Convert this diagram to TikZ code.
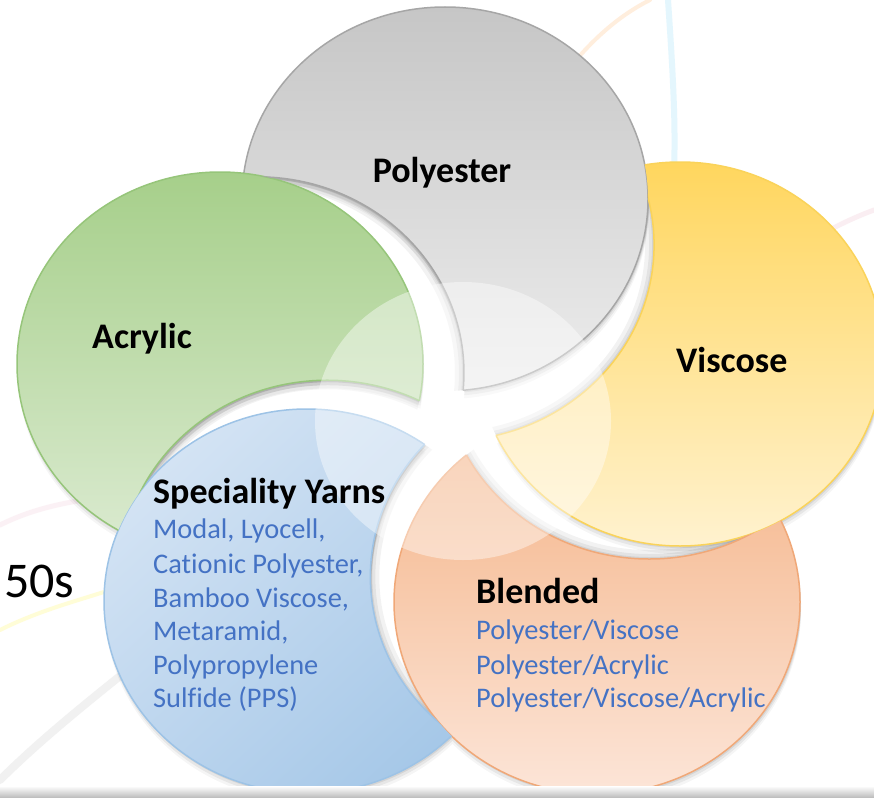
\documentclass[tikz,border=0pt]{standalone}
\usepackage{fontspec}
\setmainfont{Carlito}[Ligatures=NoCommon]
\usetikzlibrary{calc,shadings}
\definecolor{grayT}{HTML}{C6C6C6}\definecolor{grayB}{HTML}{EDEDED}\definecolor{grayL}{HTML}{A6A6A6}
\definecolor{greenT}{HTML}{A6CF8A}\definecolor{greenB}{HTML}{DCEBD2}\definecolor{greenL}{HTML}{96C57A}
\definecolor{yelT}{HTML}{FFD65E}\definecolor{yelB}{HTML}{FFF2CF}\definecolor{yelL}{HTML}{FAD35A}
\definecolor{oraT}{HTML}{F4B183}\definecolor{oraB}{HTML}{FCE5D8}\definecolor{oraL}{HTML}{F0A878}
\definecolor{bluL}{HTML}{DDE9F6}\definecolor{bluD}{HTML}{9CC2E5}\definecolor{bluM}{HTML}{BCD5EE}\definecolor{bluLine}{HTML}{9DC3E6}
\definecolor{txtblue}{HTML}{4472C4}
\def\EA{203}\def\EB{192}\def\CA{207}\def\CB{196}
% #1 petal ellipse, #2 cutting ellipse, #3 options, #4 neighbour petal ellipse
\newcommand\petalfill[4]{%
  \begin{scope}[even odd rule]
    \clip (-100,-100) rectangle (1000,900) (#2) ellipse [x radius=\CA, y radius=\CB];
    \clip (-100,-100) rectangle (1000,900) (#4) ellipse [x radius=\EA, y radius=\EB];
    \path[#3] (#1) ellipse [x radius=\EA, y radius=\EB];
  \end{scope}}
\newcommand\petalcut[4]{%
  \begin{scope}[even odd rule]
    \clip (#1) ellipse [x radius=\EA, y radius=\EB];
    \clip (-100,-100) rectangle (1000,900) (#4) ellipse [x radius=\EA, y radius=\EB];
    \draw[#3] (#2) ellipse [x radius=\CA, y radius=\CB];
  \end{scope}}
\newcommand\petalrim[2]{%
  \begin{scope}
    \clip (#1) ellipse [x radius=\EA, y radius=\EB];
    \clip (#2) ellipse [x radius=\CA, y radius=\CB];
    \draw[black,opacity=.05,line width=18pt] (#2) ellipse [x radius=\CA, y radius=\CB];
    \draw[black,opacity=.06,line width=10pt] (#2) ellipse [x radius=\CA, y radius=\CB];
    \draw[black,opacity=.07,line width=4pt] (#2) ellipse [x radius=\CA, y radius=\CB];
  \end{scope}}
\tikzset{
  head/.style={font=\fontsize{36}{42}\selectfont\bfseries, inner sep=0pt},
  body/.style={font=\fontsize{28.4}{34}\selectfont, text=txtblue, inner sep=0pt, anchor=base west},
}
\begin{document}
\begin{tikzpicture}[x=1pt,y=-1pt]
\useasboundingbox (0,0) rectangle (874,797);
\fill[white] (0,0) rectangle (874,797);
% faint background threads
\begin{scope}[line cap=round]
  \draw[line width=6pt, color=cyan!30, opacity=.35] (668,0) .. controls (672,60) and (676,120) .. (674,170);
  \draw[line width=4pt, color=orange!60, opacity=.22] (560,80) .. controls (590,40) and (620,15) .. (650,0);
  \draw[line width=5pt, color=purple!40, opacity=.16] (874,210) .. controls (820,230) and (780,260) .. (740,290);
  \draw[line width=5pt, color=purple!40, opacity=.13] (0,525) .. controls (40,505) and (80,500) .. (120,495);
  \draw[line width=8pt, color=gray!60, opacity=.18] (0,780) .. controls (40,740) and (90,700) .. (140,660);
  \draw[line width=4pt, color=yellow!70, opacity=.22] (0,630) .. controls (40,610) and (80,600) .. (110,590);
\end{scope}
% petal ellipse centres
\coordinate (P) at (455,420);
\coordinate (Egray) at (445,199);
\coordinate (Eyel) at (680,354);
\coordinate (Eora) at (597,602);
\coordinate (Eblu) at (307,601);
\coordinate (Egre) at (220,364);
% cut ellipses (shifted toward the centre)
\coordinate (Cgray) at ($(Egray)!46pt!(P)$);
\coordinate (Cyel) at ($(Eyel)!32pt!(P)$);
\coordinate (Cora) at ($(Eora)!32pt!(P)$);
\coordinate (Cblu) at ($(Eblu)!32pt!(P)$);
\coordinate (Cgre) at ($(Egre)!38pt!(P)$);
% groove shading along the cut edges
\petalrim{Egray}{Cgre}
\petalrim{Eyel}{Cgray}
\petalrim{Eora}{Cyel}
\petalrim{Eblu}{Cora}
\petalrim{Egre}{Cblu}
% drop shadows
\foreach \s/\o in {2/.08,5/.06,8/.04}{
\begin{scope}[transform canvas={xshift=1pt,yshift=-\s pt}]
  \petalfill{Egray}{Cgre}{fill=black,fill opacity=\o}{Egre}
  \petalfill{Eyel}{Cgray}{fill=black,fill opacity=\o}{Egray}
  \petalfill{Eora}{Cyel}{fill=black,fill opacity=\o}{Eyel}
  \petalfill{Eblu}{Cora}{fill=black,fill opacity=\o}{Eora}
  \petalfill{Egre}{Cblu}{fill=black,fill opacity=\o}{Eblu}
\end{scope}}
% petals
\petalfill{Egray}{Cgre}{top color=grayT,bottom color=grayB,draw=grayL,line width=1.5pt}{Egre}
\petalfill{Eyel}{Cgray}{top color=yelT,bottom color=yelB,draw=yelL,line width=1.5pt}{Egray}
\petalfill{Eora}{Cyel}{top color=oraT,bottom color=oraB,draw=oraL,line width=1.5pt}{Eyel}
\petalfill{Eblu}{Cora}{upper left=bluL,lower right=bluD,upper right=bluM,lower left=bluM,draw=bluLine,line width=1.5pt}{Eora}
\petalfill{Egre}{Cblu}{top color=greenT,bottom color=greenB,draw=greenL,line width=1.5pt}{Eblu}
% cut edges
\petalcut{Egray}{Cgre}{grayL,line width=1.5pt}{Egre}
\petalcut{Eyel}{Cgray}{yelL,line width=1.5pt}{Egray}
\petalcut{Eora}{Cyel}{oraL,line width=1.5pt}{Eyel}
\petalcut{Eblu}{Cora}{bluLine,line width=1.5pt}{Eora}
\petalcut{Egre}{Cblu}{greenL,line width=1.5pt}{Eblu}
% central translucent circle
\fill[white,opacity=.42] (463,421) ellipse [x radius=148, y radius=139];
% bottom band
\shade[top color=white,bottom color=black!25] (0,786) rectangle (874,797);
% texts
\node[head,anchor=base] (tpoly) at (442,182) {Polyester};
\node[head,anchor=base west] (tacr) at (92,348) {Acrylic};
\node[head,anchor=base west] (tvis) at (676,372) {Viscose};
\node[head,anchor=base west] (tspec) at (153,503) {Speciality Yarns};
\node[body] (s1) at (153,538) {Modal, Lyocell,};
\node[body] (s2) at (153,573) {Cationic Polyester,};
\node[body] (s3) at (153,607) {Bamboo Viscose,};
\node[body] (s4) at (153,640) {Metaramid,};
\node[body] (s5) at (153,674) {Polypropylene};
\node[body] (s6) at (153,707) {Sulfide (PPS)};
\node[head,anchor=base west] (tblend) at (476,603) {Blended};
\node[body] (b1) at (476,639) {Polyester/Viscose};
\node[body] (b2) at (476,674) {Polyester/Acrylic};
\node[body] (b3) at (476,707) {Polyester/Viscose/Acrylic};
\node[font=\fontsize{50}{54}\selectfont, inner sep=0pt, anchor=base west] (fifty) at (4,597) {50s};
\end{tikzpicture}
\end{document}
